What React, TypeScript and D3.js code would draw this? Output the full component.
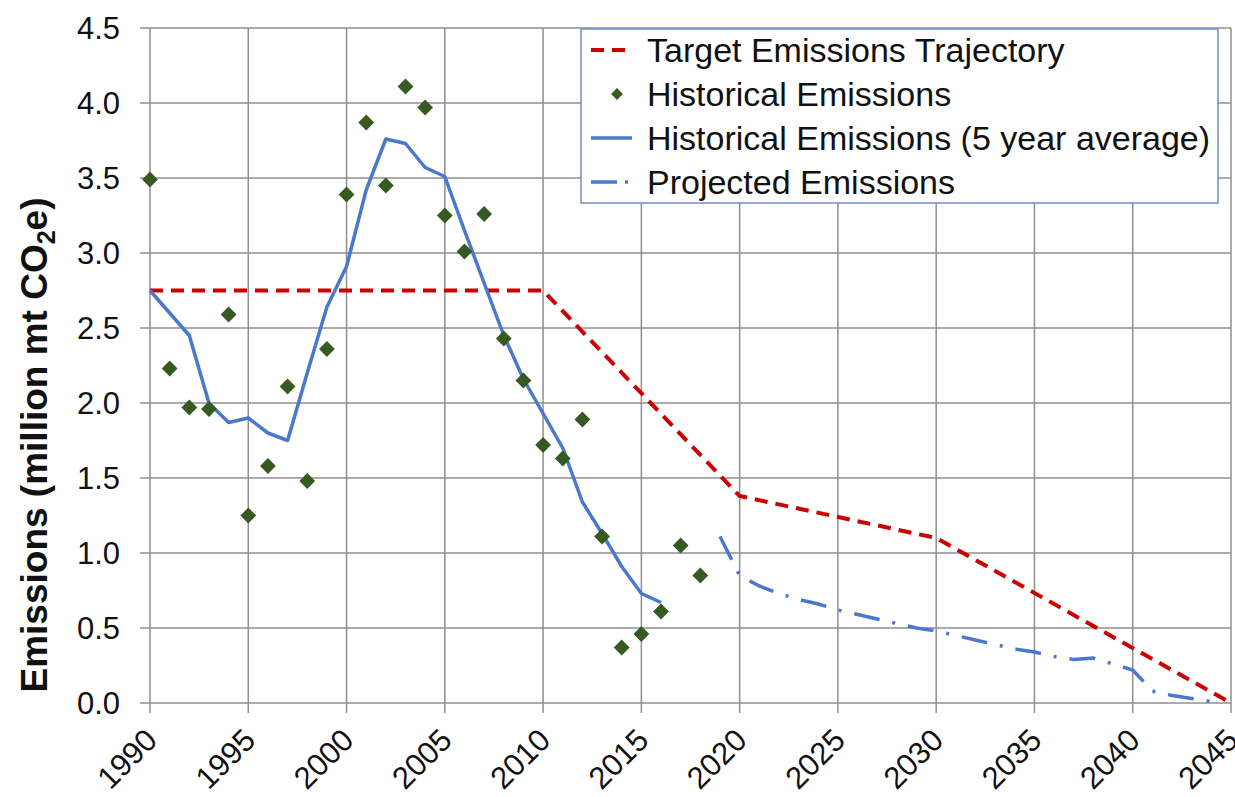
import * as d3 from "d3";

// Historical emissions (annual)
const histYears = [
  1990, 1991, 1992, 1993, 1994, 1995, 1996, 1997, 1998, 1999, 2000, 2001, 2002,
  2003, 2004, 2005, 2006, 2007, 2008, 2009, 2010, 2011, 2012, 2013, 2014, 2015,
  2016, 2017, 2018,
];
const histValues = [
  3.49, 2.23, 1.97, 1.96, 2.59, 1.25, 1.58, 2.11, 1.48, 2.36, 3.39, 3.87, 3.45,
  4.11, 3.97, 3.25, 3.01, 3.26, 2.43, 2.15, 1.72, 1.63, 1.89, 1.11, 0.37, 0.46,
  0.61, 1.05, 0.85,
];

// 5 year average
const avgYears = [
  1990, 1991, 1992, 1993, 1994, 1995, 1996, 1997, 1998, 1999, 2000, 2001, 2002,
  2003, 2004, 2005, 2006, 2007, 2008, 2009, 2010, 2011, 2012, 2013, 2014, 2015,
  2016,
];
const avgValues = [
  2.75, 2.6, 2.45, 2.0, 1.87, 1.9, 1.8, 1.75, 2.2, 2.64, 2.91, 3.42, 3.76, 3.73,
  3.57, 3.51, 3.15, 2.8, 2.45, 2.16, 1.93, 1.7, 1.34, 1.13, 0.91, 0.73, 0.67,
];

// Target trajectory
const targetYears = [1990, 2010, 2020, 2030, 2045];
const targetValues = [2.75, 2.75, 1.38, 1.1, 0.0];

// Projected emissions
const projYears = [
  2019, 2020, 2021, 2022, 2023, 2024, 2025, 2026, 2027, 2028, 2029, 2030, 2031,
  2032, 2033, 2034, 2035, 2036, 2037, 2038, 2039, 2040, 2041, 2042, 2043, 2044,
];
const projValues = [
  1.11, 0.85, 0.78, 0.73, 0.69, 0.66, 0.62, 0.59, 0.56, 0.53, 0.5, 0.48, 0.45,
  0.42, 0.39, 0.36, 0.34, 0.31, 0.29, 0.3, 0.26, 0.22, 0.08, 0.05, 0.03, 0.01,
];

const xTicks = [1990, 1995, 2000, 2005, 2010, 2015, 2020, 2025, 2030, 2035, 2040, 2045];
const yTicks = [0, 0.5, 1, 1.5, 2, 2.5, 3, 3.5, 4, 4.5];

const legendLabels = [
  "Target Emissions Trajectory",
  "Historical Emissions",
  "Historical Emissions (5 year average)",
  "Projected Emissions",
];

const W = 1235;
const H = 797;
const margin = { top: 28, right: 4, bottom: 94, left: 150 };

const RED = "#cc0000";
const BLUE = "#4a78cc";
const GREEN = "#375a22";
const GRID = "#8f8f8f";
const FONT = "'Liberation Sans', Arial, sans-serif";

type Pt = { x: number; y: number };

export default function App() {
  const x = d3
    .scaleLinear()
    .domain([1990, 2045])
    .range([margin.left, W - margin.right]);
  const y = d3
    .scaleLinear()
    .domain([0, 4.5])
    .range([H - margin.bottom, margin.top]);

  const line = d3
    .line<Pt>()
    .x((d) => x(d.x))
    .y((d) => y(d.y));

  const zip = (xs: number[], ys: number[]) => xs.map((v, i) => ({ x: v, y: ys[i] }));

  const hist = zip(histYears, histValues);
  const avg = zip(avgYears, avgValues);
  const target = zip(targetYears, targetValues);
  const proj = zip(projYears, projValues);

  const diamond = d3.symbol().type(d3.symbolSquare).size(125)()!;
  const diamondSmall = d3.symbol().type(d3.symbolSquare).size(70)()!;

  const x0 = x.range()[0];
  const x1 = x.range()[1];
  const y0 = y.range()[0];
  const y1 = y.range()[1];

  // legend layout
  const lg = { left: 581, top: 29, width: 637, height: 174, rowH: 44 };

  return (
    <svg
      width={W}
      height={H}
      style={{ position: "absolute", left: 0, top: 0, background: "#fff" }}
      fontFamily={FONT}
    >
      <rect width={W} height={H} fill="#fff" />

      {/* grid */}
      {yTicks.map((t) => (
        <line
          key={"gy" + t}
          x1={x0 - 10}
          x2={x1}
          y1={y(t)}
          y2={y(t)}
          stroke={GRID}
          strokeWidth={1.5}
        />
      ))}
      {xTicks.map((t) => (
        <line
          key={"gx" + t}
          x1={x(t)}
          x2={x(t)}
          y1={y1}
          y2={y0 + 10}
          stroke={GRID}
          strokeWidth={1.5}
        />
      ))}

      {/* y tick labels */}
      {yTicks.map((t) => (
        <text
          key={"ty" + t}
          x={x0 - 30}
          y={y(t)}
          dy="0.36em"
          textAnchor="end"
          fontSize={31}
          fill="#111"
        >
          {t.toFixed(1)}
        </text>
      ))}

      {/* x tick labels */}
      {xTicks.map((t) => (
        <text
          key={"tx" + t}
          transform={`translate(${x(t) + 9},${y0 + 39}) rotate(-45)`}
          textAnchor="end"
          fontSize={31}
          fill="#111"
        >
          {t}
        </text>
      ))}

      {/* y axis title */}
      <text
        transform={`translate(47,445) rotate(-90)`}
        textAnchor="middle"
        fontSize={37}
        fontWeight="bold"
        fill="#111"
      >
        Emissions (million mt CO
        <tspan fontSize={25} dy={8}>
          2
        </tspan>
        <tspan dy={-8}>e)</tspan>
      </text>

      {/* target */}
      <path
        d={line(target)!}
        fill="none"
        stroke={RED}
        strokeWidth={4}
        strokeDasharray="13 8"
      />

      {/* 5-year average */}
      <path d={line(avg)!} fill="none" stroke={BLUE} strokeWidth={3.5} strokeLinejoin="round" />

      {/* projected */}
      <path
        d={line(proj)!}
        fill="none"
        stroke={BLUE}
        strokeWidth={3.5}
        strokeDasharray="26 13 3 13"
      />

      {/* historical points */}
      {hist.map((d) => (
        <path
          key={"h" + d.x}
          d={diamond}
          transform={`translate(${x(d.x)},${y(d.y)}) rotate(45)`}
          fill={GREEN}
        />
      ))}

      {/* legend */}
      <g>
        <rect
          x={lg.left}
          y={lg.top}
          width={lg.width}
          height={lg.height}
          fill="#fff"
          stroke="#6f8fc8"
          strokeWidth={1.5}
        />
        {legendLabels.map((lab, i) => {
          const cy = lg.top + 21 + i * lg.rowH;
          return (
            <g key={lab}>
              {i === 0 && (
                <line x1={591} x2={632} y1={cy} y2={cy} stroke={RED} strokeWidth={4} strokeDasharray="13 8" />
              )}
              {i === 1 && (
                <path d={diamondSmall} transform={`translate(617,${cy}) rotate(45)`} fill={GREEN} />
              )}
              {i === 2 && <line x1={591} x2={632} y1={cy} y2={cy} stroke={BLUE} strokeWidth={3.5} />}
              {i === 3 && (
                <line
                  x1={591}
                  x2={632}
                  y1={cy}
                  y2={cy}
                  stroke={BLUE}
                  strokeWidth={3.5}
                  strokeDasharray="26 8 3 20"
                />
              )}
              <text x={647} y={cy} dy="0.36em" fontSize={34} fill="#111">
                {lab}
              </text>
            </g>
          );
        })}
      </g>
    </svg>
  );
}
